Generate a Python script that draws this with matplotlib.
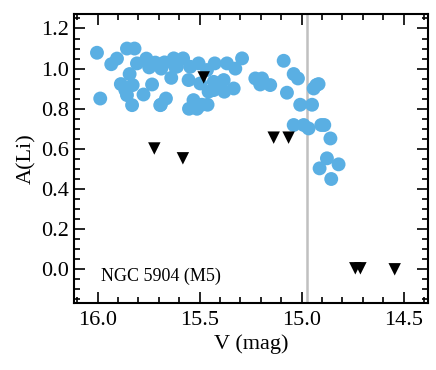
"""Li abundance vs V magnitude for NGC 5904 (M5)."""

import matplotlib

matplotlib.use("Agg")
import matplotlib.pyplot as plt
from matplotlib.ticker import MultipleLocator

# detections
v_det = [
    16.003, 15.987, 15.933, 15.905, 15.856, 15.819, 15.886, 15.864, 15.856, 15.843,
    15.828, 15.831, 15.807, 15.775, 15.761, 15.747, 15.733, 15.717, 15.690, 15.688,
    15.693, 15.665, 15.672, 15.639, 15.627, 15.620, 15.611, 15.581, 15.554, 15.546,
    15.552, 15.530, 15.513, 15.521, 15.505, 15.497, 15.489, 15.461, 15.456, 15.464,
    15.431, 15.426, 15.431, 15.399, 15.382, 15.379, 15.366, 15.333, 15.325, 15.292,
    15.227, 15.194, 15.203, 15.154, 15.088, 15.072, 15.039, 15.018, 15.039, 15.007,
    14.990, 14.966, 14.949, 14.941, 14.928, 14.917, 14.904, 14.889, 14.859, 14.876,
    14.912, 14.855, 14.819,
]
a_det = [
    1.079, 0.851, 1.022, 1.050, 1.100, 1.100, 0.923, 0.893, 0.868, 0.973,
    0.918, 0.818, 1.026, 0.871, 1.050, 1.006, 0.921, 1.030, 0.820, 1.000,
    0.818, 0.851, 1.031, 0.954, 1.051, 1.009, 1.010, 1.051, 0.943, 1.009,
    0.800, 0.843, 0.800, 0.820, 1.026, 0.926, 0.820, 0.820, 0.885, 0.993,
    0.893, 1.026, 0.934, 0.918, 0.943, 0.885, 1.026, 0.901, 1.000, 1.051,
    0.951, 0.951, 0.921, 0.918, 1.039, 0.880, 0.973, 0.951, 0.719, 0.820,
    0.719, 0.702, 0.820, 0.901, 0.918, 0.923, 0.719, 0.719, 0.652, 0.553,
    0.503, 0.450, 0.523,
]

# upper limits
v_lim = [15.722, 15.582, 15.480, 15.137, 15.064, 14.737, 14.712, 14.544]
a_lim = [0.602, 0.553, 0.956, 0.656, 0.656, 0.005, 0.005, 0.000]

v_cut = 14.974
label = "NGC 5904 (M5)"

plt.rcParams["font.family"] = ["Liberation Serif", "DejaVu Serif"]

fig = plt.figure(figsize=(4.36, 3.70), dpi=100)
ax = fig.add_axes([0.170, 0.181, 0.812, 0.780])

ax.axvline(v_cut, color="#c0c0c0", linewidth=1.8, zorder=1)
ax.scatter(v_det, a_det, s=100, color="#5aafe3", edgecolors="none", zorder=2)
ax.scatter(v_lim, a_lim, s=80, marker="v", color="black", edgecolors="none", zorder=3)

ax.text(15.985, -0.035, label, fontsize=13, va="center", ha="left")

ax.set_xlim(16.115, 14.38)
ax.set_ylim(-0.168, 1.27)
ax.xaxis.set_major_locator(MultipleLocator(0.5))
ax.xaxis.set_minor_locator(MultipleLocator(0.1))
ax.yaxis.set_major_locator(MultipleLocator(0.2))
ax.yaxis.set_minor_locator(MultipleLocator(0.05))
ax.tick_params(which="both", direction="in", top=True, right=True, labelsize=16, width=1.2)
ax.tick_params(which="major", length=8)
ax.tick_params(which="minor", length=4)
ax.tick_params(axis="x", pad=6)
for s in ax.spines.values():
    s.set_linewidth(1.5)

ax.set_xlabel("V (mag)", fontsize=16, labelpad=3)
ax.set_ylabel("A(Li)", fontsize=16, labelpad=4)

fig.savefig("out.png", dpi=100)
